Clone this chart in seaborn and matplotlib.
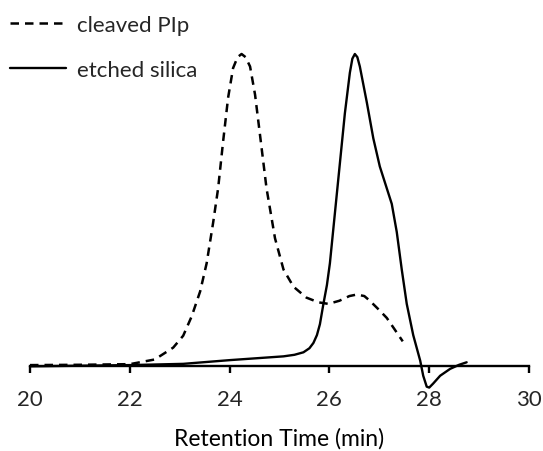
import matplotlib
matplotlib.use("Agg")
import matplotlib.pyplot as plt
import seaborn as sns

# retention time (min) and normalised detector signal
time_pip = [20.0, 21.0, 22.0, 22.5, 22.87, 23.07, 23.24, 23.41, 23.54, 23.67, 23.77,
            23.87, 23.97, 24.07, 24.16, 24.24, 24.32, 24.41, 24.51, 24.61, 24.74,
            24.91, 25.08, 25.28, 25.54, 25.78, 25.98, 26.2, 26.4, 26.55, 26.7,
            26.81, 27.0, 27.15, 27.3, 27.47]
signal_pip = [0.004, 0.005, 0.007, 0.022, 0.06, 0.098, 0.16, 0.24, 0.33, 0.46, 0.57,
              0.72, 0.86, 0.955, 0.99, 1.0, 0.99, 0.96, 0.87, 0.74, 0.57,
              0.41, 0.31, 0.255, 0.22, 0.205, 0.2, 0.21, 0.225, 0.23, 0.225,
              0.21, 0.18, 0.155, 0.12, 0.08]

time_silica = [20.0, 21.0, 22.0, 23.07, 24.01, 25.08, 25.3, 25.48, 25.6, 25.68, 25.75,
               25.81, 25.88, 25.95, 26.01, 26.11, 26.21, 26.31, 26.41, 26.46, 26.51,
               26.56, 26.61, 26.75, 26.88, 27.01, 27.13, 27.25, 27.35, 27.45, 27.55,
               27.68, 27.82, 27.88, 27.95, 28.0, 28.08, 28.22, 28.42, 28.6, 28.75]
signal_silica = [0.0, 0.002, 0.004, 0.008, 0.02, 0.032, 0.037, 0.045, 0.058, 0.075, 0.10,
                 0.135, 0.2, 0.26, 0.33, 0.49, 0.65, 0.81, 0.94, 0.985, 1.0,
                 0.99, 0.96, 0.845, 0.73, 0.64, 0.58, 0.52, 0.43, 0.31, 0.2,
                 0.1, 0.018, -0.03, -0.065, -0.068, -0.055, -0.03, -0.008, 0.005, 0.013]

x_ticks = [20, 22, 24, 26, 28, 30]

sns.set_style("white")
plt.rcParams["font.family"] = ["Lato", "DejaVu Sans"]

fig = plt.figure(figsize=(5.43, 4.52), dpi=100)
ax = fig.add_axes([30 / 543, 0.132, 499 / 543, 0.8016])

sns.lineplot(x=time_pip, y=signal_pip, ax=ax, color="black", linewidth=1.8,
             linestyle=(0, (3.4, 2.4)), label="cleaved PIp")
sns.lineplot(x=time_silica, y=signal_silica, ax=ax, color="black", linewidth=1.7,
             label="etched silica")

ax.set_xlim(20, 30)
ax.set_ylim(-0.08, 1.08)
ax.set_xticks(x_ticks)
ax.set_yticks([])
for side in ["top", "right", "left"]:
    ax.spines[side].set_visible(False)
ax.spines["bottom"].set_position(("data", 0))
ax.spines["bottom"].set_color("black")
ax.spines["bottom"].set_linewidth(1.7)
ax.tick_params(axis="x", direction="out", length=5, width=1.7, color="black",
               labelsize=16, pad=11, bottom=True)
ax.set_xlabel("Retention Time (min)", fontsize=16.5, labelpad=13, color="black")

ax.legend(loc="upper left", bbox_to_anchor=(-0.006, 0.995), bbox_transform=fig.transFigure,
          frameon=False, fontsize=16, handlelength=2.5, handletextpad=0.5,
          labelspacing=1.15, borderpad=0.4, borderaxespad=0.2)

fig.savefig("out.png", dpi=100)
